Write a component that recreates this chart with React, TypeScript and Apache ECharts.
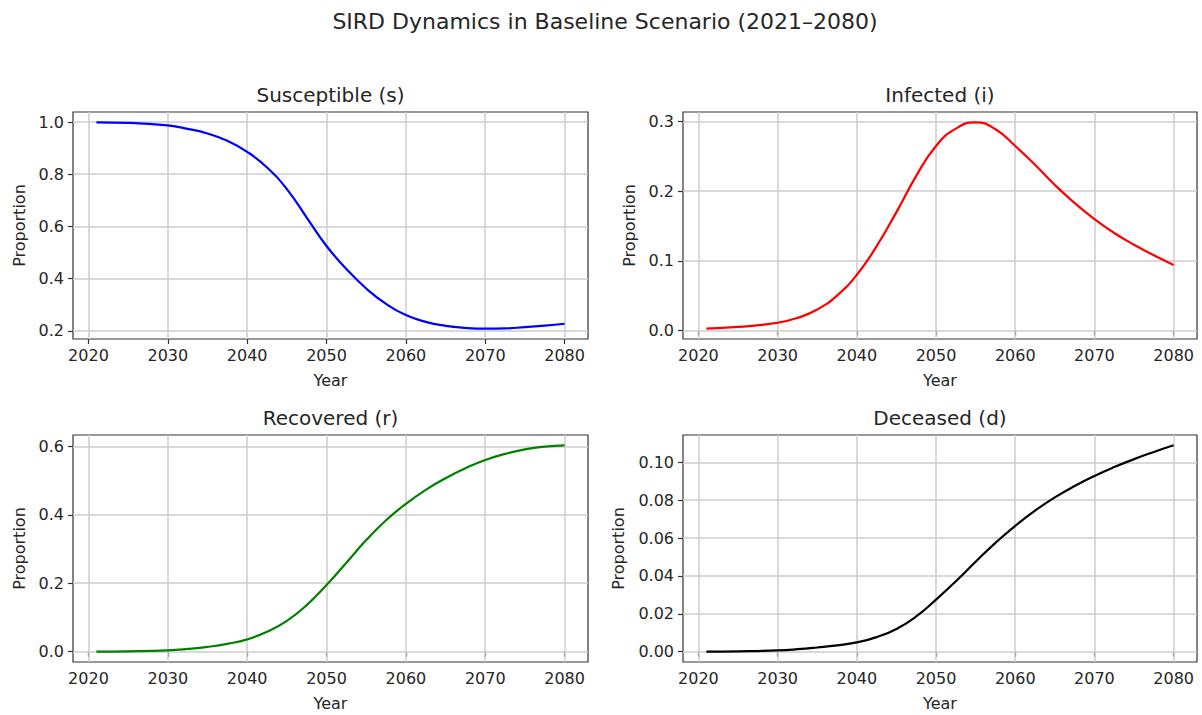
import React, { useEffect, useRef } from 'react';
import * as echarts from 'echarts';

const mainTitle = 'SIRD Dynamics in Baseline Scenario (2021–2080)';
const panelTitles = ['Susceptible (s)', 'Infected (i)', 'Recovered (r)', 'Deceased (d)'];
const xAxisName = 'Year';
const yAxisName = 'Proportion';

const years = [2021, 2025, 2030, 2032.5, 2035, 2037.5, 2040, 2042.5, 2045, 2047.5, 2050, 2052.5, 2055, 2057.5, 2060, 2062.5, 2065, 2067.5, 2070, 2072.5, 2075, 2077.5, 2080];
const susceptible = [0.999, 0.997, 0.987, 0.974, 0.956, 0.928, 0.886, 0.826, 0.743, 0.634, 0.525, 0.437, 0.362, 0.303, 0.26, 0.234, 0.219, 0.211, 0.208, 0.209, 0.214, 0.22, 0.227];
const infected = [0.0025, 0.005, 0.011, 0.018, 0.03, 0.05, 0.08, 0.121, 0.17, 0.222, 0.265, 0.29, 0.299, 0.289, 0.265, 0.238, 0.209, 0.183, 0.16, 0.14, 0.123, 0.108, 0.094];
const recovered = [0.0, 0.001, 0.004, 0.008, 0.014, 0.023, 0.036, 0.058, 0.09, 0.136, 0.195, 0.26, 0.326, 0.384, 0.432, 0.473, 0.507, 0.536, 0.56, 0.578, 0.591, 0.599, 0.603];
const deceased = [0.0, 0.0002, 0.0007, 0.0013, 0.0022, 0.0033, 0.0049, 0.0077, 0.012, 0.0186, 0.0275, 0.0372, 0.0475, 0.0575, 0.0665, 0.0745, 0.0815, 0.0875, 0.0928, 0.0975, 0.1017, 0.1055, 0.109];

const xTicks = [2020, 2030, 2040, 2050, 2060, 2070, 2080];
const sTicks = [0.2, 0.4, 0.6, 0.8, 1.0];
const iTicks = [0.0, 0.1, 0.2, 0.3];
const rTicks = [0.0, 0.2, 0.4, 0.6];
const dTicks = [0.0, 0.02, 0.04, 0.06, 0.08, 0.1];

const FONT = 'DejaVu Sans';
const TEXT = '#262626';

function padded(vals: number[]) {
  const mn = Math.min(...vals);
  const mx = Math.max(...vals);
  const p = (mx - mn) * 0.05;
  return [mn - p, mx + p];
}

export default function App() {
  const ref = useRef<HTMLDivElement>(null);
  useEffect(() => {
    if (!ref.current) return;
    const chart = echarts.init(ref.current, null, { renderer: 'svg' });
    const panels = [
      { data: susceptible, ticks: sTicks, dec: 1, color: '#0000ff', grid: { left: 73, top: 112, width: 515, height: 227 }, nameGap: 46 },
      { data: infected, ticks: iTicks, dec: 1, color: '#ff0000', grid: { left: 683, top: 112, width: 514, height: 227 }, nameGap: 46 },
      { data: recovered, ticks: rTicks, dec: 1, color: '#008000', grid: { left: 73, top: 435, width: 515, height: 227 }, nameGap: 46 },
      { data: deceased, ticks: dTicks, dec: 2, color: '#000000', grid: { left: 683, top: 435, width: 514, height: 227 }, nameGap: 57 },
    ];
    const xr = padded(years);
    const titles: any[] = [
      {
        text: mainTitle, left: 605, top: 10, padding: 0, textAlign: 'center',
        textStyle: { fontFamily: FONT, fontSize: 22, fontWeight: 'normal', color: TEXT },
      },
    ];
    panels.forEach((p, k) => {
      titles.push({
        text: panelTitles[k], left: p.grid.left + p.grid.width / 2, top: p.grid.top - 27, padding: 0, textAlign: 'center',
        textStyle: { fontFamily: FONT, fontSize: 20, fontWeight: 'normal', color: TEXT },
      });
    });
    const option: any = {
      animation: false,
      backgroundColor: '#ffffff',
      title: titles,
      grid: panels.map((p) => ({ ...p.grid, show: true, borderColor: '#333333', borderWidth: 1.2, backgroundColor: 'transparent' })),
      xAxis: panels.map((p, k) => ({
        type: 'value', gridIndex: k, min: xr[0], max: xr[1],
        name: xAxisName, nameLocation: 'middle', nameGap: 33,
        nameTextStyle: { fontFamily: FONT, fontSize: 16, color: TEXT },
        axisLine: { show: false },
        axisTick: { show: true, customValues: xTicks, length: 5, lineStyle: { color: '#333333', width: 1.2 } },
        axisLabel: { customValues: xTicks, margin: 8, fontFamily: FONT, fontSize: 16, color: TEXT, formatter: (v: number) => String(Math.round(v)) },
        splitLine: { show: false },
      })),
      yAxis: panels.map((p, k) => {
        const yr = padded(p.data);
        return {
          type: 'value', gridIndex: k, min: yr[0], max: yr[1],
          name: yAxisName, nameLocation: 'middle', nameGap: p.nameGap, nameRotate: 90,
          nameTextStyle: { fontFamily: FONT, fontSize: 16, color: TEXT },
          axisLine: { show: false },
          axisTick: { show: true, customValues: p.ticks, length: 5, lineStyle: { color: '#333333', width: 1.2 } },
          axisLabel: { customValues: p.ticks, margin: 9, fontFamily: FONT, fontSize: 16, color: TEXT, formatter: (v: number) => v.toFixed(p.dec) },
          splitLine: { show: false },
        };
      }),
      series: panels.map((p, k) => ({
        type: 'line', xAxisIndex: k, yAxisIndex: k, z: 3,
        data: years.map((y, j) => [y, p.data[j]]),
        showSymbol: false, smooth: 0.5,
        lineStyle: { color: p.color, width: 2.2 },
        itemStyle: { color: p.color },
        markLine: {
          silent: true, z: 1, symbol: ['none', 'none'], animation: false,
          label: { show: false },
          lineStyle: { color: '#cdcdcd', width: 1.5, type: 'solid' },
          emphasis: { disabled: true },
          data: [...xTicks.map((v) => ({ xAxis: v })), ...p.ticks.map((v) => ({ yAxis: v }))],
        },
      })),
    };
    chart.setOption(option);
    return () => chart.dispose();
  }, []);
  return <div ref={ref} style={{ position: 'fixed', left: 0, top: 0, width: 1202, height: 715, background: '#fff' }} />;
}
